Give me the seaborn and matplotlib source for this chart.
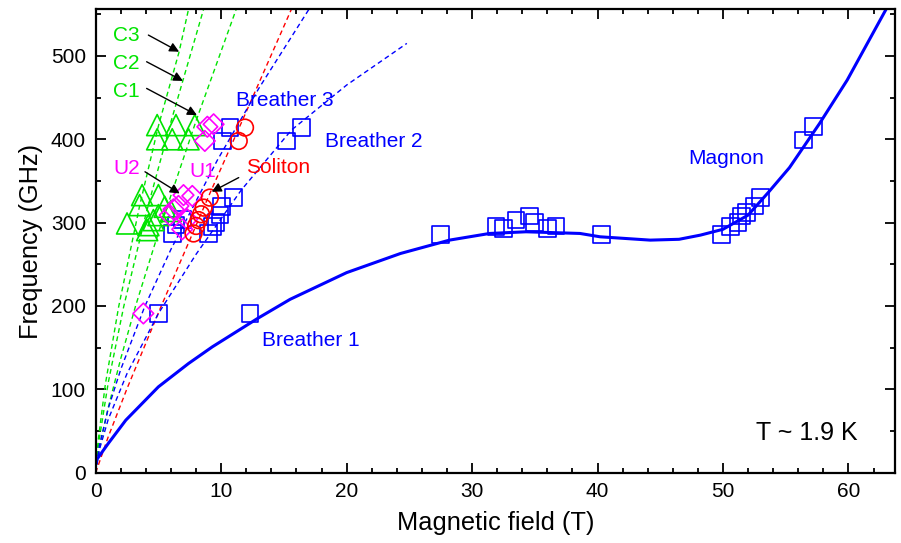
import numpy as np
import pandas as pd
import seaborn as sns
import matplotlib.pyplot as plt
from matplotlib.ticker import MultipleLocator

# ---- data (field in T, frequency in GHz) ----
# solid magnon curve
magnon_B = [0, 1, 2.4, 5, 7.4, 9.3, 12.9, 15.5, 20, 24.3, 28.2, 31.4, 34.3, 38.6, 40.2,
            44.2, 46.5, 48.2, 50, 52, 53.6, 55.3, 57.7, 59.9, 63.0]
magnon_f = [14, 35, 63, 103, 131, 151, 185, 208, 240, 263, 279, 287, 289, 287, 283,
            279, 280, 285, 292, 309, 336, 366, 419, 471, 556]

# dashed guide lines
c3_B = [0, 0.2, 0.77, 1.83, 3.5, 5.0, 6.65, 7.4]
c3_f = [0, 39, 106, 199, 320, 416, 505, 556]
c2_B = [0, 0.2, 1.0, 2.23, 4.0, 6.0, 7.0, 8.6]
c2_f = [0, 32, 108, 199, 310, 421, 473, 556]
c1_B = [0, 0.3, 1.0, 2.0, 3.16, 5.0, 8.0, 11.2]
c1_f = [0, 30, 78, 137, 199, 288, 422, 556]
sol_B = [0, 1, 2.5, 5.2, 9.1, 12, 15.6]
sol_f = [0, 43, 101, 199, 335, 433, 556]
br3_B = [0, 0.3, 1, 2, 3.9, 6.0, 9.7, 13, 17.0]
br3_f = [0, 33, 77, 124, 199, 268, 375, 461, 556]
br2_B = [0, 0.3, 1, 2.5, 5.0, 8, 11.6, 15.6, 20, 24.8]
br2_f = [0, 28, 64, 119, 191, 262, 339, 411, 465, 515]

# measured points
sq_B = [49.9, 50.6, 51.2, 51.5, 51.9, 52.5, 53.0, 56.4, 57.2,
        27.5, 31.9, 32.5, 33.5, 34.6, 35.0, 36.0, 36.7, 40.3,
        5.0, 12.3, 6.1, 6.4, 6.9, 9.0, 9.3, 9.6, 9.9, 10.0, 11.0,
        10.1, 10.7, 15.2, 16.4]
sq_f = [286, 295, 300, 308, 312, 320, 330, 399, 415,
        286, 295, 293, 303, 308, 300, 293, 296, 286,
        191, 191, 287, 297, 304, 287, 295, 300, 309, 319, 330,
        398, 414, 398, 414]
tri_B = [4.9, 6.4, 7.9, 4.9, 6.1, 7.4,
         3.7, 5.0, 3.5, 5.5, 2.5, 4.2, 5.0, 4.1, 4.6, 6.0]
tri_f = [417, 417, 417, 400, 400, 400,
         333, 333, 321, 319, 299, 297, 309, 291, 303, 314]
dia_B = [8.9, 8.7, 9.4, 7.0, 7.7, 6.6, 6.2, 5.9, 6.9, 7.3, 3.8]
dia_f = [415, 398, 418, 333, 332, 320, 316, 309, 292, 304, 191]
circ_B = [11.9, 11.4, 9.1, 8.4, 8.2, 8.0, 7.8, 8.6]
circ_f = [414, 398, 330, 310, 303, 296, 287, 318]

green = '#00e400'
blue = '#0000ff'
red = '#ff0000'
magenta = '#ff00ff'

sns.set_style('ticks')
plt.rcParams['font.family'] = ['Liberation Sans', 'DejaVu Sans']
plt.rcParams['text.color'] = 'black'
plt.rcParams['axes.labelcolor'] = 'black'
plt.rcParams['xtick.color'] = 'black'
plt.rcParams['ytick.color'] = 'black'

fig = plt.figure(figsize=(9.01, 5.43), dpi=100)
ax = fig.add_axes([0.1062, 0.1295, 0.887, 0.8535])

dash = (0, (3.5, 2.5))
for bx, fy, col in [(c3_B, c3_f, green), (c2_B, c2_f, green), (c1_B, c1_f, green),
                    (sol_B, sol_f, red), (br3_B, br3_f, blue), (br2_B, br2_f, blue)]:
    sns.lineplot(x=bx, y=fy, color=col, lw=1.0, linestyle=dash, estimator=None,
                 sort=False, ax=ax)

sns.lineplot(x=magnon_B, y=magnon_f, color=blue, lw=2.2, estimator=None, sort=False, ax=ax)

sns.scatterplot(x=sq_B, y=sq_f, marker='s', s=145, facecolor='none', edgecolor=blue,
                linewidth=1.2, ax=ax, zorder=5)
sns.scatterplot(x=tri_B, y=tri_f, marker='^', s=230, facecolor='none', edgecolor=green,
                linewidth=1.2, ax=ax, zorder=5)
sns.scatterplot(x=dia_B, y=dia_f, marker='D', s=110, facecolor='none', edgecolor=magenta,
                linewidth=1.2, ax=ax, zorder=5)
sns.scatterplot(x=circ_B, y=circ_f, marker='o', s=145, facecolor='none', edgecolor=red,
                linewidth=1.2, ax=ax, zorder=5)

ax.set_xlim(0, 63.7)
ax.set_ylim(0, 556)
ax.xaxis.set_major_locator(MultipleLocator(10))
ax.xaxis.set_minor_locator(MultipleLocator(2))
ax.yaxis.set_major_locator(MultipleLocator(100))
ax.yaxis.set_minor_locator(MultipleLocator(50))
ax.tick_params(which='both', direction='in', top=True, right=True, width=1.3,
               labelsize=15, pad=7, color='black', labelcolor='black')
ax.tick_params(which='major', length=7)
ax.tick_params(which='minor', length=3.5)
for sp in ax.spines.values():
    sp.set_linewidth(1.6)
    sp.set_color('black')

ax.set_xlabel('Magnetic field (T)', fontsize=18.3, labelpad=7)
ax.set_ylabel('Frequency (GHz)', fontsize=18.3, labelpad=6)

fs = 15
ax.text(1.35, 525, 'C3', color=green, fontsize=fs, va='center')
ax.text(1.35, 491, 'C2', color=green, fontsize=fs, va='center')
ax.text(1.35, 457, 'C1', color=green, fontsize=fs, va='center')
ax.text(1.4, 365, 'U2', color=magenta, fontsize=fs, va='center')
ax.text(7.5, 361, 'U1', color=magenta, fontsize=fs, va='center')
ax.text(12.0, 366, 'Soliton', color=red, fontsize=fs, va='center')
ax.text(11.2, 446, 'Breather 3', color=blue, fontsize=fs, va='center')
ax.text(18.3, 397, 'Breather 2', color=blue, fontsize=fs, va='center')
ax.text(13.25, 159, 'Breather 1', color=blue, fontsize=fs, va='center')
ax.text(47.2, 377, 'Magnon', color=blue, fontsize=fs, va='center')
ax.text(52.6, 48, 'T ~ 1.9 K', color='black', fontsize=18, va='center')

arrow = dict(arrowstyle='-|>', color='black', lw=1.0, mutation_scale=14, shrinkA=0, shrinkB=0)
for (x0, y0), (x1, y1) in [((4.2, 525), (6.65, 505)), ((4.06, 493), (6.96, 470)),
                           ((4.06, 461), (8.07, 429)), ((3.93, 361), (6.7, 335)),
                           ((11.4, 354), (9.25, 337))]:
    ax.annotate('', xy=(x1, y1), xytext=(x0, y0), arrowprops=arrow, zorder=6)

fig.savefig('out.png', dpi=100)
